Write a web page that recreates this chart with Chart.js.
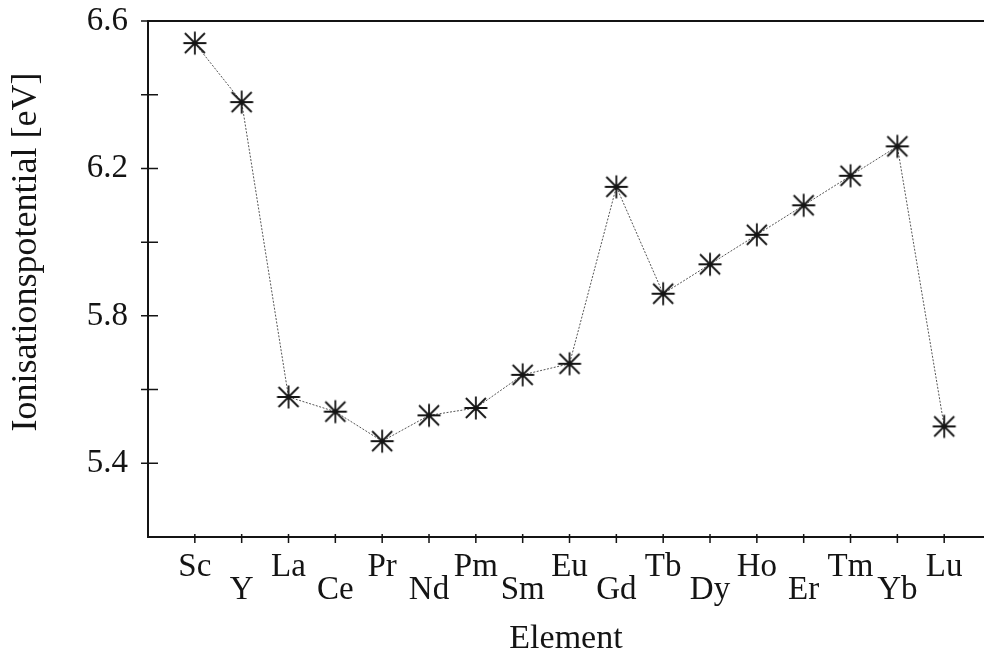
<!DOCTYPE html>
<html>
<head>
<meta charset="utf-8">
<script src="https://cdn.jsdelivr.net/npm/chart.js@4"></script>
<style>
  html, body { margin: 0; padding: 0; background: #fff; }
  #wrap { width: 984px; height: 659px; }
</style>
</head>
<body>
<div id="wrap"><canvas id="ipChart" width="984" height="659"></canvas></div>
<script>
// data
const elements = ["Sc", "Y", "La", "Ce", "Pr", "Nd", "Pm", "Sm", "Eu", "Gd", "Tb", "Dy", "Ho", "Er", "Tm", "Yb", "Lu"];
const potentials = [6.54, 6.38, 5.58, 5.54, 5.46, 5.53, 5.55, 5.64, 5.67, 6.15, 5.86, 5.94, 6.02, 6.10, 6.18, 6.26, 5.50];
const yLabelled = [5.4, 5.8, 6.2, 6.6];
const yTitle = "Ionisationspotential [eV]";
const xTitle = "Element";

const FONT = "'Liberation Serif', 'DejaVu Serif', serif";
const INK = "#141414";

// asterisk marker: a "+" and an "x" in the same square
const makeAsterisk = () => {
    const c = document.createElement("canvas");
    c.width = 26;
    c.height = 26;
    const g = c.getContext("2d");
    g.strokeStyle = INK;
    g.lineWidth = 1.8;
    const a = 1.5, b = 24.5, m = 13;
    g.beginPath();
    g.moveTo(m, a); g.lineTo(m, b);
    g.moveTo(a, m); g.lineTo(b, m);
    g.moveTo(a + 1.5, a + 1.5); g.lineTo(b - 1.5, b - 1.5);
    g.moveTo(b - 1.5, a + 1.5); g.lineTo(a + 1.5, b - 1.5);
    g.stroke();
    return c;
};

// no extra room for overhanging labels, the layout padding handles it
const noOverhang = s => {
    s.paddingTop = 0;
    s.paddingBottom = 0;
    s.paddingLeft = 0;
    s.paddingRight = 0;
};

// tick marks that cross the axes, top frame line and the y title
const frame = {
    id: "frame",
    afterDraw(chart) {
        const { ctx, chartArea, scales } = chart;
        const x = scales.x, y = scales.y;
        ctx.save();
        ctx.strokeStyle = INK;
        ctx.lineWidth = 1.5;
        ctx.beginPath();
        elements.forEach((e, i) => {
            const px = x.getPixelForValue(i);
            ctx.moveTo(px, chartArea.bottom - 3);
            ctx.lineTo(px, chartArea.bottom + 6);
        });
        y.ticks.forEach(t => {
            if (t.value < 5.3) return;
            const py = y.getPixelForValue(t.value);
            ctx.moveTo(chartArea.left - 7, py);
            ctx.lineTo(chartArea.left + 10, py);
        });
        ctx.stroke();

        ctx.lineWidth = 2;
        ctx.beginPath();
        ctx.moveTo(chartArea.left, chartArea.top);
        ctx.lineTo(chart.width, chartArea.top);
        ctx.stroke();

        ctx.fillStyle = INK;
        ctx.font = "36px " + FONT;
        ctx.textAlign = "center";
        ctx.textBaseline = "middle";
        ctx.translate(27, chartArea.top + 231);
        ctx.rotate(-Math.PI / 2);
        ctx.fillText(yTitle, 0, 0);
        ctx.restore();
    }
};

const ctx = document.getElementById("ipChart").getContext("2d");

new Chart(ctx, {
    type: "line",
    data: {
        datasets: [{
            data: potentials.map((v, i) => ({ x: i, y: v })),
            borderColor: "#555555",
            borderWidth: 1,
            borderDash: [2, 1.5],
            pointStyle: makeAsterisk(),
            pointRadius: 12,
            pointHoverRadius: 12,
            tension: 0,
            fill: false
        }]
    },
    options: {
        responsive: false,
        animation: false,
        devicePixelRatio: 1,
        layout: { autoPadding: false, padding: { top: 21, right: 0, bottom: 0, left: 0 } },
        plugins: {
            legend: { display: false },
            tooltip: { enabled: false }
        },
        scales: {
            x: {
                type: "linear",
                min: -1,
                max: 16.85,
                afterFit: s => { noOverhang(s); s.height = 122; },
                afterBuildTicks: s => { s.ticks = elements.map((e, i) => ({ value: i })); },
                grid: { display: false, drawTicks: false },
                border: { display: true, color: INK, width: 2 },
                ticks: {
                    autoSkip: false,
                    maxRotation: 0,
                    padding: 19,
                    color: INK,
                    font: { family: FONT, size: 33, lineHeight: "23px" },
                    callback: v => v % 2 === 0 ? elements[v] : ["", elements[v]]
                },
                title: {
                    display: true,
                    text: xTitle,
                    color: INK,
                    font: { family: FONT, size: 34, lineHeight: 1.2 },
                    padding: { top: 0, bottom: 0 }
                }
            },
            y: {
                min: 5.2,
                max: 6.6,
                afterFit: s => { noOverhang(s); s.width = 148; },
                grid: { display: false, drawTicks: false },
                border: { display: true, color: INK, width: 2 },
                ticks: {
                    stepSize: 0.2,
                    padding: 20,
                    color: INK,
                    font: { family: FONT, size: 33 },
                    callback: v => {
                        const hit = yLabelled.find(l => Math.abs(l - v) < 1e-6);
                        return hit === undefined ? "" : hit.toFixed(1);
                    }
                }
            }
        }
    },
    plugins: [frame]
});
</script>
</body>
</html>
